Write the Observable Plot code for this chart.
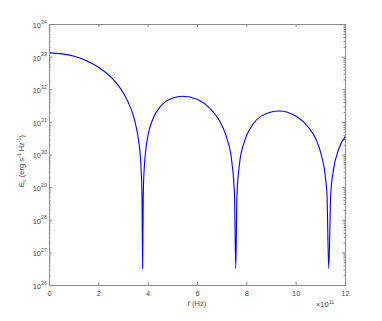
<!DOCTYPE html>
<html>
<head>
<meta charset="utf-8">
<script src="https://cdn.jsdelivr.net/npm/d3@7"></script>
<script src="https://cdn.jsdelivr.net/npm/@observablehq/plot@0.6"></script>
<style>
  html, body { margin: 0; padding: 0; background: #fff; }
  #chart { width: 382px; height: 321px; }
</style>
</head>
<body>
<div id="chart"></div>
<script>
// frequency in units of 1e11 Hz
const freq = [0, 0.5, 1.0, 1.5, 2.0, 2.5, 2.8, 3.0, 3.2, 3.4, 3.5, 3.6, 3.7, 3.75, 3.775, 3.8, 3.85, 3.9, 4.0, 4.2, 4.5, 5.0, 5.4, 6.0, 6.5, 7.0, 7.2, 7.4, 7.5, 7.55, 7.6, 7.7, 7.9, 8.2, 8.6, 9.3, 10.0, 10.5, 10.8, 11.0, 11.2, 11.25, 11.32, 11.4, 11.5, 11.7, 12.0];
// spectral energy E_nu (erg s^-1 Hz^-1)
const energy = [1.35e33, 1.26e33, 1.07e33, 7.76e32, 4.79e32, 2.40e32, 1.32e32, 7.76e31, 3.98e31, 1.62e31, 8.13e30, 3.16e30, 5.50e29, 6.03e28, 3.31e26, 5.89e28, 5.13e29, 1.38e30, 4.27e30, 1.32e31, 3.09e31, 5.62e31, 6.31e31, 5.01e31, 2.69e31, 7.76e30, 3.09e30, 5.50e29, 6.03e28, 3.31e26, 5.89e28, 5.13e29, 2.57e30, 7.76e30, 1.58e31, 2.24e31, 1.55e31, 7.08e30, 3.09e30, 1.15e30, 1.66e29, 6.03e28, 3.31e26, 5.89e28, 3.09e29, 1.35e30, 3.80e30];
const xTicks = [0, 2, 4, 6, 8, 10, 12];
const xTickLabels = ["0", "2", "4", "6", "8", "10", "12"];
const yTicks = [1e26, 1e27, 1e28, 1e29, 1e30, 1e31, 1e32, 1e33, 1e34];
const yTickExps = ["26", "27", "28", "29", "30", "31", "32", "33", "34"];
const yMinor = [];
for (const t of yTicks.slice(0, -1)) for (let k = 2; k <= 9; k++) yMinor.push(k * t);

const data = freq.map((f, i) => ({f, E: energy[i]}));
const axisColor = "#8a8a8a";
const textColor = "#4a4a4a";
const font = "Liberation Sans, Arial, Helvetica, sans-serif";

const W = 382, H = 321, mL = 49, mR = 37, mT = 24, mB = 36;
const fw = W - mL - mR, fh = H - mT - mB;

const svg = Plot.plot({
  width: W, height: H,
  marginLeft: mL, marginRight: mR, marginTop: mT, marginBottom: mB,
  style: {fontFamily: font, background: "#fff", overflow: "visible"},
  x: {domain: [0, 12], axis: null},
  y: {type: "log", domain: [1e26, 1e34], axis: null},
  marks: [
    // inward ticks
    Plot.tickX(xTicks, {x: d => d, stroke: axisColor, insetTop: fh - 3}),
    Plot.tickX(xTicks, {x: d => d, stroke: axisColor, insetBottom: fh - 3}),
    Plot.tickY(yTicks, {y: d => d, stroke: axisColor, insetRight: fw - 3}),
    Plot.tickY(yTicks, {y: d => d, stroke: axisColor, insetLeft: fw - 3}),
    Plot.tickY(yMinor, {y: d => d, stroke: axisColor, insetRight: fw - 1.5}),
    Plot.tickY(yMinor, {y: d => d, stroke: axisColor, insetLeft: fw - 1.5}),
    Plot.line(data, {x: "f", y: "E", stroke: "#0000ff", strokeWidth: 1.1, curve: "monotone-x"}),
    Plot.frame({stroke: axisColor, strokeWidth: 1}),
    // x tick labels
    Plot.text(xTicks, {x: d => d, y: 1e26, dy: 8, text: (d, i) => xTickLabels[i], fill: textColor, fontSize: 7.5}),
    // y tick labels: base and exponent
    Plot.text(yTicks, {x: 0, y: d => d, dx: -8.5, dy: 1, text: () => "10", textAnchor: "end", fill: textColor, fontSize: 7.5}),
    Plot.text(yTicks, {x: 0, y: d => d, dx: -8.5, dy: -2.5, text: (d, i) => yTickExps[i], textAnchor: "start", fill: textColor, fontSize: 5.2})
  ]
});

const s = d3.select(svg);
// x label
s.append("text")
  .attr("x", mL + fw / 2).attr("y", 306)
  .attr("text-anchor", "middle")
  .attr("font-family", font).attr("font-size", 7.5).attr("fill", textColor)
  .text("f (Hz)");
// multiplier
const m = s.append("text")
  .attr("x", 325).attr("y", 307)
  .attr("font-family", font).attr("font-size", 7.5).attr("fill", textColor);
m.append("tspan").text("\u00d710");
m.append("tspan").attr("font-size", 5.2).attr("dy", -3.5).text("11");
// y label
const yl = s.append("text")
  .attr("transform", `translate(24,${161}) rotate(-90)`)
  .attr("text-anchor", "middle")
  .attr("font-family", font).attr("font-size", 7.5).attr("fill", textColor);
yl.append("tspan").text("E");
yl.append("tspan").attr("font-size", 5.2).attr("dy", 2).text("\u03bd");
yl.append("tspan").attr("dy", -2).text(" (erg s");
yl.append("tspan").attr("font-size", 5.2).attr("dy", -3.5).text("-1");
yl.append("tspan").attr("dy", 3.5).text(" Hz");
yl.append("tspan").attr("font-size", 5.2).attr("dy", -3.5).text("-1");
yl.append("tspan").attr("dy", 3.5).text(")");

document.getElementById("chart").appendChild(svg);
</script>
</body>
</html>
